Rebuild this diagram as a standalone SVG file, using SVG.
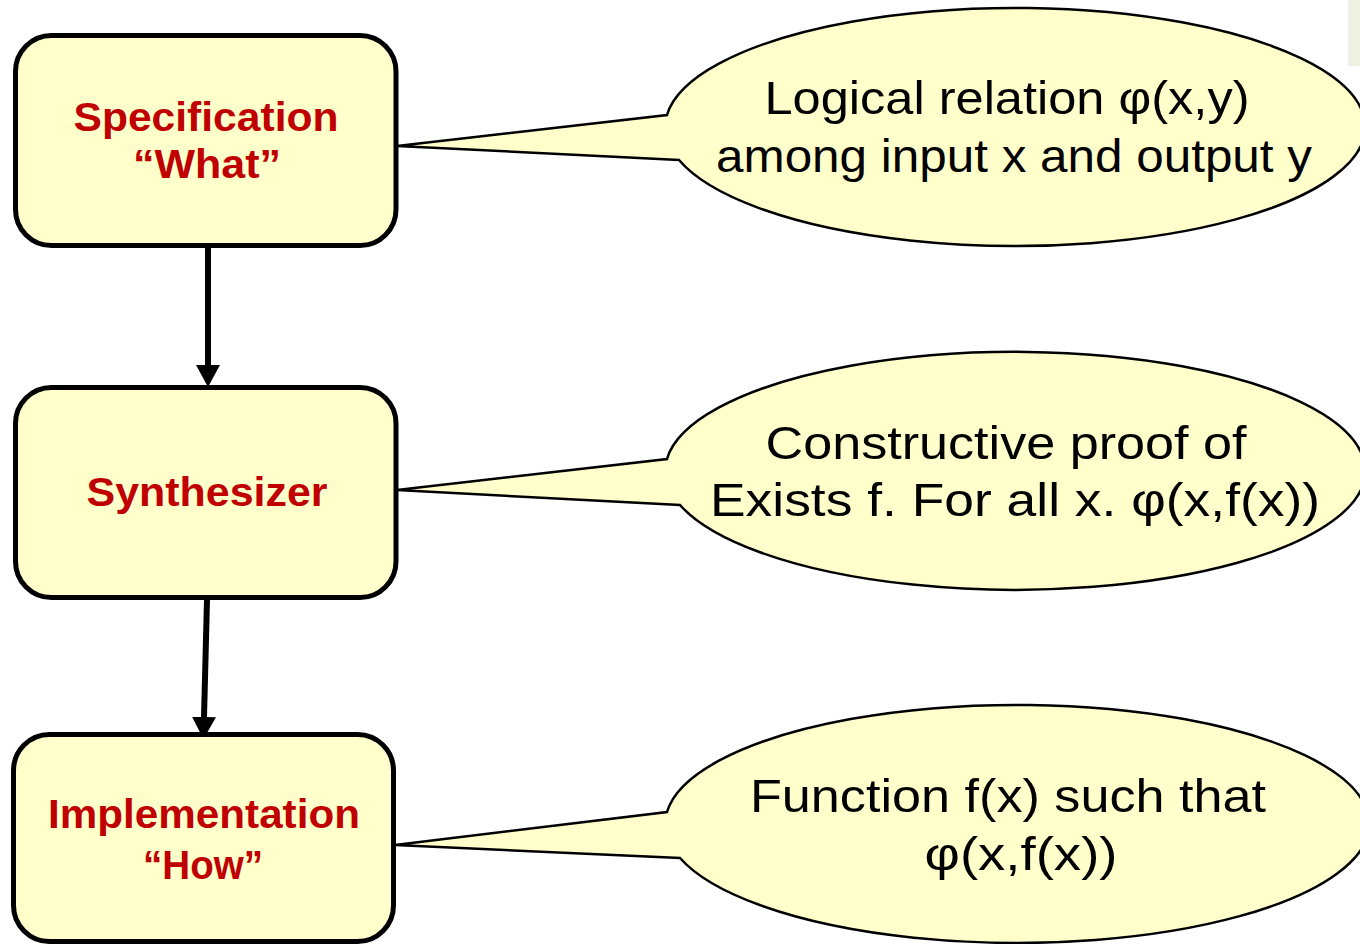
<svg xmlns="http://www.w3.org/2000/svg" width="1360" height="944" viewBox="0 0 1360 944">
<style>
.box{fill:#FFFFCC;stroke:#000;stroke-width:5}
.bub{fill:#FFFFCC;stroke:#000;stroke-width:2.5;stroke-linejoin:miter}
.lbl{font-family:"Comic Sans MS","Liberation Sans",sans-serif;font-weight:bold;font-size:41px;fill:#C00000;text-anchor:middle}
.bt{font-family:"Comic Sans MS","Liberation Sans",sans-serif;font-size:46px;fill:#000;text-anchor:middle}
.conn{stroke:#000;stroke-width:6;fill:none}
</style>
<defs>
<marker id="ah" markerUnits="userSpaceOnUse" markerWidth="22" markerHeight="24" refX="0" refY="12" orient="auto" viewBox="0 0 22 24">
<path d="M0,0 L22,12 L0,24 Z" fill="#000"/>
</marker>
</defs>
<rect x="1348" y="0" width="12" height="66" fill="#EEF1E2"/>
<g id="connectors">
<line class="conn" x1="208" y1="248" x2="208" y2="365" marker-end="url(#ah)"/>
<line class="conn" x1="207" y1="600" x2="204" y2="717" marker-end="url(#ah)"/>
</g>
<g id="spec">
<rect class="box" x="15.5" y="35.5" width="380.5" height="210" rx="36"/>
<text class="lbl" x="206" y="131" textLength="265" lengthAdjust="spacingAndGlyphs">Specification</text>
<text class="lbl" x="207" y="178" textLength="148" lengthAdjust="spacingAndGlyphs">“What”</text>
</g>
<g id="synth">
<rect class="box" x="15.5" y="387.5" width="380.5" height="210" rx="36"/>
<text class="lbl" x="207" y="506" textLength="241" lengthAdjust="spacingAndGlyphs">Synthesizer</text>
</g>
<g id="impl">
<rect class="box" x="13.5" y="734.5" width="380" height="207" rx="36"/>
<text class="lbl" x="204" y="828" textLength="312" lengthAdjust="spacingAndGlyphs">Implementation</text>
<text class="lbl" x="203" y="879" textLength="120" lengthAdjust="spacingAndGlyphs">“How”</text>
</g>
<g id="bubble1">
<path class="bub" d="M397,146 L667,115 A350,119 0 1 1 679,160 Z"/>
<text class="bt" x="1007" y="114" textLength="485" lengthAdjust="spacingAndGlyphs">Logical relation φ(x,y)</text>
<text class="bt" x="1014" y="172" textLength="596" lengthAdjust="spacingAndGlyphs">among input x and output y</text>
</g>
<g id="bubble2">
<path class="bub" d="M397,490 L667,459 A350,119 0 1 1 680,505 Z"/>
<text class="bt" x="1006" y="459" textLength="481" lengthAdjust="spacingAndGlyphs">Constructive proof of</text>
<text class="bt" x="1015" y="516" textLength="610" lengthAdjust="spacingAndGlyphs">Exists f. For all x. φ(x,f(x))</text>
</g>
<g id="bubble3">
<path class="bub" d="M395,845 L667,812 A352,119 0 1 1 680,858 Z"/>
<text class="bt" x="1008" y="812" textLength="516" lengthAdjust="spacingAndGlyphs">Function f(x) such that</text>
<text class="bt" x="1021" y="870" textLength="193" lengthAdjust="spacingAndGlyphs">φ(x,f(x))</text>
</g>
</svg>
